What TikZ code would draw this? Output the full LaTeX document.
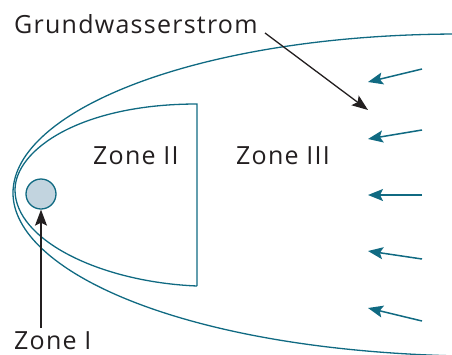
\documentclass[tikz,border=0pt]{standalone}
\usepackage{fontspec}
\setmainfont[LetterSpace=5]{Open Sans}
\usetikzlibrary{arrows.meta}
\definecolor{teal}{RGB}{16,106,130}
\definecolor{dotfill}{RGB}{194,212,223}
\definecolor{ink}{RGB}{35,31,32}
\tikzset{
  zone/.style={draw=teal,line width=1.3pt},
  label/.style={inner sep=0pt,anchor=base west,text=ink,font=\fontsize{25}{28}\selectfont},
  flow/.style={draw=teal,line width=1.5pt,-{Stealth[length=15pt,width=12pt,inset=3pt]}},
  pointer/.style={draw=ink,line width=1.3pt,-{Stealth[length=16pt,width=12pt,inset=3pt]}}
}
\begin{document}
\begin{tikzpicture}[x=1pt,y=-1pt]
\useasboundingbox (0,0) rectangle (452,354);
% outer zone III boundary
\draw[zone] (460,34) .. controls (200,34) and (13,110) .. (13,193)
  .. controls (13,270) and (180,350) .. (460,356);
% inner zone II boundary
\draw[zone] (197,286) -- (197,104) .. controls (80,104) and (15,150) .. (15,190)
  .. controls (15,240) and (100,282) .. (197,286);
% well (zone I)
\node[circle,draw=teal,fill=dotfill,line width=1.3pt,minimum size=30pt,inner sep=0pt] (well) at (41,194) {};
% labels
\node[label] (gw) at (14,33) {Grundwasserstrom};
\node[label] (z2) at (93,164) {Zone II};
\node[label] (z3) at (236,164) {Zone III};
\node[label] (z1) at (14,349) {Zone I};
% pointers
\coordinate (gwend) at (368,110);
\coordinate (gwstart) at (265,33);
\draw[pointer] (gwstart) -- (gwend);
\coordinate (z1start) at (41,328);
\draw[pointer] (z1start) -- (well.south);
% flow arrows
\coordinate (a1s) at (422,69);  \coordinate (a1e) at (368,82);
\coordinate (a2s) at (422,130); \coordinate (a2e) at (368,139);
\coordinate (a3s) at (422,195); \coordinate (a3e) at (368,195);
\coordinate (a4s) at (422,259); \coordinate (a4e) at (368,251);
\coordinate (a5s) at (422,321); \coordinate (a5e) at (368,308);
\foreach \i in {1,...,5} \draw[flow] (a\i s) -- (a\i e);
\end{tikzpicture}
\end{document}
